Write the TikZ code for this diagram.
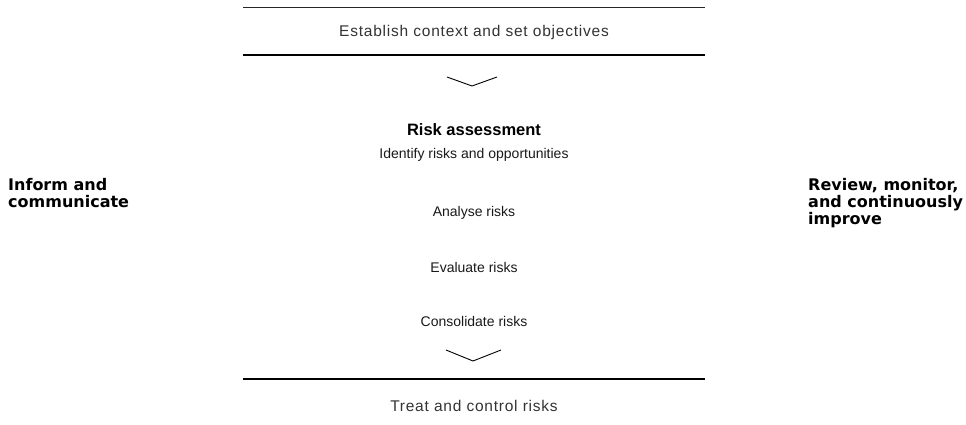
\documentclass[tikz,border=0pt]{standalone}
\usepackage{fontspec}
\setmainfont{Liberation Sans}
\newfontfamily\sidefont{DejaVu Sans}
\begin{document}
\begin{tikzpicture}[x=1pt,y=-1pt,
  rule/.style={line width=1.3pt},
  thinrule/.style={line width=0.9pt, black!85},
  chev/.style={line width=0.9pt},
  stage/.style={font=\fontsize{15.5}{18}\selectfont\addfontfeatures{LetterSpace=5}, text=black!80, inner sep=0pt},
  task/.style={font=\fontsize{14}{17}\selectfont, text=black!90, inner sep=0pt},
  heading/.style={font=\bfseries\fontsize{16.5}{18}\selectfont, inner sep=0pt},
  sidelabel/.style={font=\sidefont\bfseries\fontsize{16}{17}\selectfont, inner sep=0pt, align=left}]
  \useasboundingbox (0,0) rectangle (966,425);
  % horizontal rules framing the stages
  \coordinate (t1l) at (243,7);   \coordinate (t1r) at (705,7);
  \coordinate (t2l) at (243,55);  \coordinate (t2r) at (705,55);
  \coordinate (b1l) at (243,379); \coordinate (b1r) at (705,379);
  \draw[thinrule] (t1l) -- (t1r);
  \draw[rule] (t2l) -- (t2r);
  \draw[rule] (b1l) -- (b1r);
  % stages
  \node[stage] (ctx) at (474,32) {Establish context and set objectives};
  \node[stage] (treat) at (474,406) {Treat and control risks};
  % chevrons
  \coordinate (c1a) at (447,77); \coordinate (c1b) at (472,86); \coordinate (c1c) at (497,77);
  \draw[chev] (c1a) -- (c1b) -- (c1c);
  \coordinate (c2a) at (446,350); \coordinate (c2b) at (473,361); \coordinate (c2c) at (501,350);
  \draw[chev] (c2a) -- (c2b) -- (c2c);
  % risk assessment block
  \node[heading] (ra) at (474,130) {Risk assessment};
  \node[task] (id) at (474,155) {Identify risks and opportunities};
  \node[task] (an) at (474,213) {Analyse risks};
  \node[task] (ev) at (474,267) {Evaluate risks};
  \node[task] (co) at (474,321) {Consolidate risks};
  % side labels
  \node[sidelabel, anchor=west] (inf) at (8,193) {Inform and\\communicate};
  \node[sidelabel, anchor=west] (rev) at (808,203) {Review, monitor,\\and continuously\\improve};
\end{tikzpicture}
\end{document}
